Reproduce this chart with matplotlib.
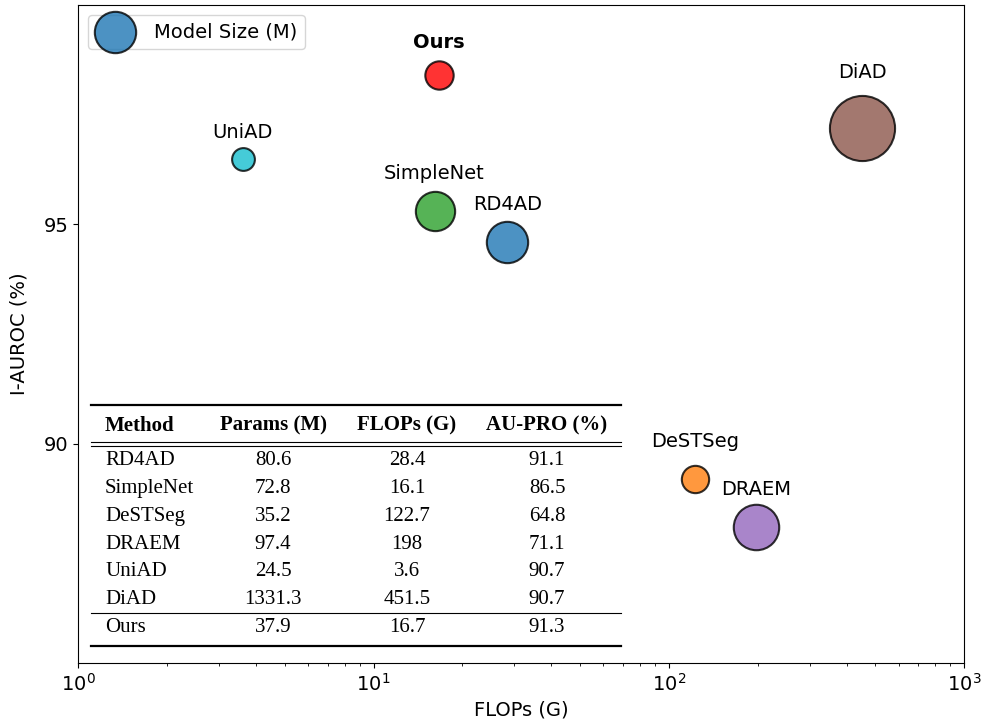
import numpy as np
import matplotlib.pyplot as plt
from matplotlib.lines import Line2D

# data
methods = ["RD4AD", "SimpleNet", "DeSTSeg", "DRAEM", "UniAD", "DiAD", "Ours"]
params_m = [80.6, 72.8, 35.2, 97.4, 24.5, 1331.3, 37.9]
flops_g = [28.4, 16.1, 122.7, 198, 3.6, 451.5, 16.7]
au_pro = [91.1, 86.5, 64.8, 71.1, 90.7, 90.7, 91.3]
i_auroc = [94.6, 95.3, 89.2, 88.1, 96.5, 97.2, 98.4]

colors = {"RD4AD": "tab:blue", "SimpleNet": "tab:green", "DeSTSeg": "tab:orange",
          "DRAEM": "tab:purple", "UniAD": "tab:cyan", "DiAD": "tab:brown", "Ours": "red"}
# vertical offset of the name label above each bubble (data units)
label_dy = {"RD4AD": 0.85, "SimpleNet": 0.85, "DeSTSeg": 0.85, "DRAEM": 0.85,
            "UniAD": 0.6, "DiAD": 1.26, "Ours": 0.75}

W, H = 984, 727
fig = plt.figure(figsize=(W / 100, H / 100), dpi=100)
ax = fig.add_axes([78.3 / W, 1 - 663 / H, (964 - 78.3) / W, (663 - 5) / H])

for i, m in enumerate(methods):
    size = min(params_m[i], 200) * 11.0
    ax.scatter(flops_g[i], i_auroc[i], s=size, color=colors[m], alpha=0.8,
               edgecolors="black", linewidths=1.5, zorder=3,
               label="Model Size (M)" if i == 0 else None)
    ax.text(flops_g[i], i_auroc[i] + label_dy[m], m, ha="center", va="center",
            fontsize=14, fontweight="bold" if m == "Ours" else "normal")

ax.set_xscale("log")
ax.set_xlim(1, 1000)
ax.set_ylim(85, 100)
ax.set_yticks([90, 95])
ax.tick_params(labelsize=14)
ax.set_xlabel("FLOPs (G)", fontsize=14)
ax.set_ylabel("I-AUROC (%)", fontsize=14, labelpad=11)
ax.legend(loc="upper left", fontsize=14, borderpad=0.4, handletextpad=1.0)


# table drawn in figure pixel coordinates
def fx(x):
    return x / W


def fy(y):
    return 1 - y / H


serif = ["Liberation Serif", "DejaVu Serif"]
col_x = [105, 273, 407, 547]
headers = ["Method", "Params (M)", "FLOPs (G)", "AU-PRO (%)"]
for j, h in enumerate(headers):
    fig.text(fx(col_x[j]), fy(425.7), h, ha="left" if j == 0 else "center",
             va="center", family=serif, fontsize=15, fontweight="bold")

row_y0, row_step = 460.7, 27.77
for i, m in enumerate(methods):
    y = fy(row_y0 + i * row_step)
    cells = [m, f"{params_m[i]:g}", f"{flops_g[i]:g}", f"{au_pro[i]:g}"]
    for j, c in enumerate(cells):
        fig.text(fx(col_x[j]), y, c, ha="left" if j == 0 else "center",
                 va="center", family=serif, fontsize=15)

for y, lw in [(405, 1.6), (441.7, 0.8), (445.7, 0.8), (613.3, 0.8), (645.7, 1.6)]:
    fig.add_artist(Line2D([fx(91), fx(621)], [fy(y), fy(y)], color="black", lw=lw))

fig.savefig("out.png", dpi=100)
